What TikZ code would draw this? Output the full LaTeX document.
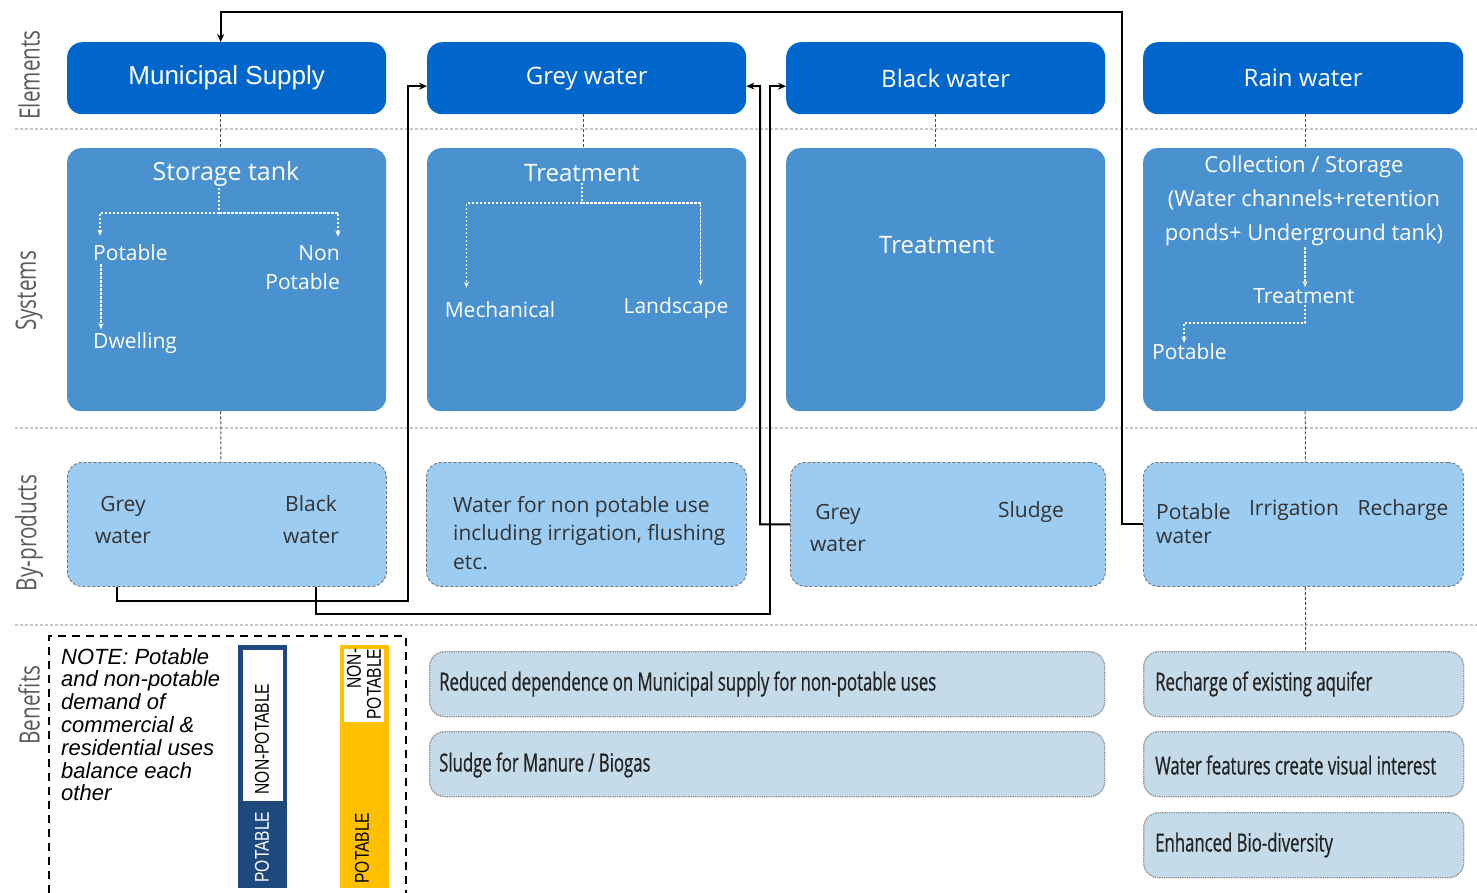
\documentclass[tikz,border=0pt]{standalone}
\usepackage{fontspec}
\setmainfont{Open Sans}
\newfontfamily\helv{Liberation Sans}
\newfontfamily\condf[FakeStretch=0.74]{Open Sans}
\newfontfamily\benf[FakeStretch=0.67,FakeBold=0.6]{Open Sans}
\newfontfamily\narrowf[FakeStretch=0.78]{Liberation Sans}
\usetikzlibrary{calc,arrows.meta}
\definecolor{elemc}{RGB}{0,102,204}
\definecolor{sysc}{RGB}{74,145,207}
\definecolor{bypc}{RGB}{157,204,242}
\definecolor{benc}{RGB}{197,219,233}
\definecolor{navyc}{RGB}{31,73,125}
\definecolor{goldc}{RGB}{255,192,0}
\definecolor{sepc}{RGB}{200,200,200}
\definecolor{labc}{RGB}{90,90,90}
\definecolor{bytc}{RGB}{50,50,50}
\definecolor{bentc}{RGB}{35,35,35}
\newcommand{\fsz}[2]{\fontsize{#1}{#2}\selectfont}
\tikzset{
  elembox/.style={fill=elemc, rounded corners=15pt, minimum height=72pt, minimum width=319pt, inner sep=0pt, anchor=north west, text=white, font=\fsz{24}{28}},
  sysbox/.style={fill=sysc, rounded corners=14pt, minimum width=319pt, minimum height=263pt, anchor=north west, inner sep=0pt},
  bybox/.style={fill=bypc, draw=black!55, densely dashed, line width=0.9pt, rounded corners=15pt, minimum width=319pt, minimum height=124pt, anchor=north west, inner sep=0pt},
  benbox/.style={fill=benc, draw=black!45, densely dotted, line width=1.3pt, rounded corners=15pt, minimum height=65pt, anchor=north west, inner sep=0pt},
  systitle/.style={text=white, font=\fsz{24}{28}, inner sep=1pt},
  sysitem/.style={text=white, font=\fsz{21}{25}, inner sep=1pt},
  bytext/.style={text=bytc, font=\fsz{21}{32}, inner sep=1pt},
  bentext/.style={text=bentc, font=\benf\fsz{25}{30}, anchor=west, inner sep=0pt},
  rowlab/.style={rotate=90, text=labc, font=\condf\fsz{28}{30}, inner sep=0pt},
  flow/.style={draw=black, line width=2pt, -{Stealth[length=8pt,width=7pt]}},
  vconn/.style={draw=black!70, densely dashed, line width=1pt},
  sepline/.style={draw=sepc, line width=2.2pt, dash pattern=on 3pt off 2pt},
  wline/.style={draw=white, line width=1.3pt, dash pattern=on 2.5pt off 1.5pt},
  warr/.style={wline, -{Stealth[length=6pt,width=5pt]}},
  legtext/.style={rotate=90, font=\narrowf\fsz{20}{20}, inner sep=0pt},
}
\begin{document}
\begin{tikzpicture}[x=1pt,y=-1pt]
\useasboundingbox (0,0) rectangle (1477,893);

% separators
\draw[sepline] (15,129) -- (1477,129);
\draw[sepline] (15,428) -- (1477,428);
\draw[sepline] (15,625) -- (1477,625);

% row labels
\node[rowlab] (lElem) at (29,75) {Elements};
\node[rowlab] (lSys) at (29,291) {Systems};
\node[rowlab] (lByp) at (29,533) {By-products};
\node[rowlab] (lBen) at (29,705) {Benefits};

% elements
\node[elembox, font=\helv\fsz{26}{30}] (ms) at (67,42) {Municipal Supply};
\node[elembox] (gw) at (427,42) {Grey water};
\node[elembox] (bw) at (786,42) {Black water};
\node[elembox, minimum width=320pt] (rw) at (1143,42) {Rain water};

% systems
\node[sysbox] (st) at (67,148) {};
\node[sysbox] (gt) at (427,148) {};
\node[sysbox] (bt) at (786,148) {};
\node[sysbox, minimum width=320pt] (rc) at (1143,148) {};

% by-products
\node[bybox] (bp1) at (67,462) {};
\node[bybox, minimum width=320pt] (bp2) at (426,462) {};
\node[bybox, minimum width=315pt] (bp3) at (790,462) {};
\node[bybox, minimum width=320pt] (bp4) at (1143,462) {};

% benefits
\node[benbox, minimum width=675pt] (bn1) at (429,651) {};
\node[benbox, minimum width=675pt] (bn2) at (429,731) {};
\node[benbox, minimum width=320pt] (bn3) at (1143,651) {};
\node[benbox, minimum width=320pt] (bn4) at (1143,731) {};
\node[benbox, minimum width=320pt] (bn5) at (1143,812) {};

% vertical dashed connectors
\draw[vconn] ($(ms.south)+(-6,0)$) -- ($(st.north)+(-6,0)$);
\draw[vconn] ($(gw.south)+(-3,0)$) -- ($(gt.north)+(-3,0)$);
\draw[vconn] ($(bw.south)+(-10,0)$) -- ($(bt.north)+(-10,0)$);
\draw[vconn] ($(rw.south)+(2,0)$) -- ($(rc.north)+(2,0)$);
\draw[vconn] ($(st.south)+(-6,0)$) -- ($(bp1.north)+(-6,0)$);
\draw[vconn] ($(gt.south)+(-3,0)$) -- ($(gt.south)+(-3,0)$ |- bp2.north);
\draw[vconn] ($(bt.south)+(-10,0)$) -- ($(bt.south)+(-10,0)$ |- bp3.north);
\draw[vconn] ($(rc.south)+(2,0)$) -- ($(bp4.north)+(2,0)$);
\draw[vconn] ($(bp2.south)+(-3,0)$) -- ($(bp2.south)+(-3,0)$ |- bn1.north);
\draw[vconn] ($(bp3.south)+(-12,0)$) -- ($(bp3.south)+(-12,0)$ |- bn1.north);
\draw[vconn] ($(bp4.south)+(2,0)$) -- ($(bn3.north)+(2,0)$);

% systems texts
\node[systitle, font=\fsz{25}{29}] (stt) at (226,174) {Storage tank};
\node[sysitem, anchor=west] (stp) at (92,253) {Potable};
\node[sysitem, anchor=east, align=right, font=\fsz{21}{29}] (stn) at (341,268) {Non\\Potable};
\node[sysitem, anchor=west] (std) at (92,343) {Dwelling};
\coordinate (stj) at (219,213);
\draw[wline] (stt.south -| stj) -- (stj);
\draw[warr] (stj) -| ($(stp.north west)+(8,-8)$);
\draw[warr] (stj) -| ($(stn.north east)+(-3,-8)$);
\draw[warr] ($(stp.south west)+(9,2)$) -- ($(std.north west)+(9,-2)$);

\node[systitle] (gtt) at (582,173) {Treatment};
\node[sysitem] (gtm) at (500,310) {Mechanical};
\node[sysitem] (gtl) at (676,308) {Landscape};
\coordinate (gtj) at (582,203);
\draw[wline] (gtt.south -| gtj) -- (gtj);
\draw[warr] (gtj) -| ($(gtm.north west)+(23,-13)$);
\draw[warr] (gtj) -| ($(gtl.north east)+(-29,-11)$);

\node[systitle] (btt) at (937,245) {Treatment};

\node[sysitem, align=center, font=\fsz{22}{34}] (rct) at (1304,201) {Collection / Storage\\(Water channels+retention\\ponds+ Underground tank)};
\node[sysitem] (rctr) at (1304,296) {Treatment};
\node[sysitem, anchor=west] (rcp) at (1151,352) {Potable};
\coordinate (rcj) at (1305,323);
\draw[warr] ($(rct.south)+(1,0)$) -- ($(rctr.north)+(1,0)$);
\draw[wline, -{Stealth[length=6pt,width=5pt]}] ($(rctr.south)+(1,0)$) |- (rcj) -| ($(rcp.north west)+(33,0)$);

% by-product texts
\node[bytext, align=center] (b1g) at (123,520) {Grey\\water};
\node[bytext, align=center] (b1b) at (311,520) {Black\\water};
\node[bytext, align=left, anchor=west, font=\fsz{21}{28.5}] (b2t) at (452,533) {Water for non potable use\\including irrigation, flushing\\etc.};
\node[bytext, align=center] (b3g) at (838,528) {Grey\\water};
\node[bytext] (b3s) at (1031,512) {Sludge};
\node[bytext, align=left, anchor=west, font=\fsz{21}{24}] (b4p) at (1155,524) {Potable\\water};
\node[bytext] (b4i) at (1294,510) {Irrigation};
\node[bytext] (b4r) at (1403,510) {Recharge};

% benefit texts
\node[bentext] (t1) at (439,684) {Reduced dependence on Municipal supply for non-potable uses};
\node[bentext] (t2) at (439,765) {Sludge for Manure / Biogas};
\node[bentext] (t3) at (1155,684) {Recharge of existing aquifer};
\node[bentext] (t4) at (1155,765) {Water features create visual interest};
\node[bentext] (t5) at (1155,845) {Enhanced Bio-diversity};

% flows
\coordinate (k1) at (1122,12);
\draw[flow] (bp4.west) -| (k1) -| ($(ms.north)+(-6,0)$);
\coordinate (k2) at (408,601);
\draw[flow] ($(bp1.south west)+(50,0)$) |- (k2) |- ($(gw.west)+(0,8)$);
\coordinate (k3) at (770,614);
\draw[flow] ($(bp1.south west)+(249,0)$) |- (k3) |- ($(bw.west)+(0,8)$);
\coordinate (k4) at (760,86);
\draw[flow] (bp3.west) -| (k4) -- ($(gw.east)+(0,8)$);

% legend
\draw[line width=2pt, dash pattern=on 8pt off 6pt] (49,893) -- (49,636) -- (406,636) -- (406,893);
\node[anchor=north west, align=left, inner sep=0pt, font=\helv\itshape\fsz{22}{22.8}] (note) at (61,648) {NOTE: Potable\\and non-potable\\demand of\\commercial \&\\residential uses\\balance each\\other};
\node[fill=navyc, minimum width=49pt, minimum height=243pt, anchor=north west, inner sep=0pt] (nb) at (238,645) {};
\node[fill=white, minimum width=40pt, minimum height=151pt, anchor=north west, inner sep=0pt] (nbw) at (243,650) {};
\node[legtext] (nbt1) at (262,739) {NON-POTABLE};
\node[legtext, text=white] (nbt2) at (262,847) {POTABLE};
\node[fill=goldc, minimum width=49pt, minimum height=243pt, anchor=north west, inner sep=0pt] (yb) at (340,645) {};
\node[fill=white, minimum width=40pt, minimum height=73pt, anchor=north west, inner sep=0pt] (ybw) at (344,649) {};
\node[legtext, align=right, font=\narrowf\fsz{20}{20}] (ybt1) at (364,684) {NON-\\POTABLE};
\node[legtext] (ybt2) at (362,848) {POTABLE};
\end{tikzpicture}
\end{document}
